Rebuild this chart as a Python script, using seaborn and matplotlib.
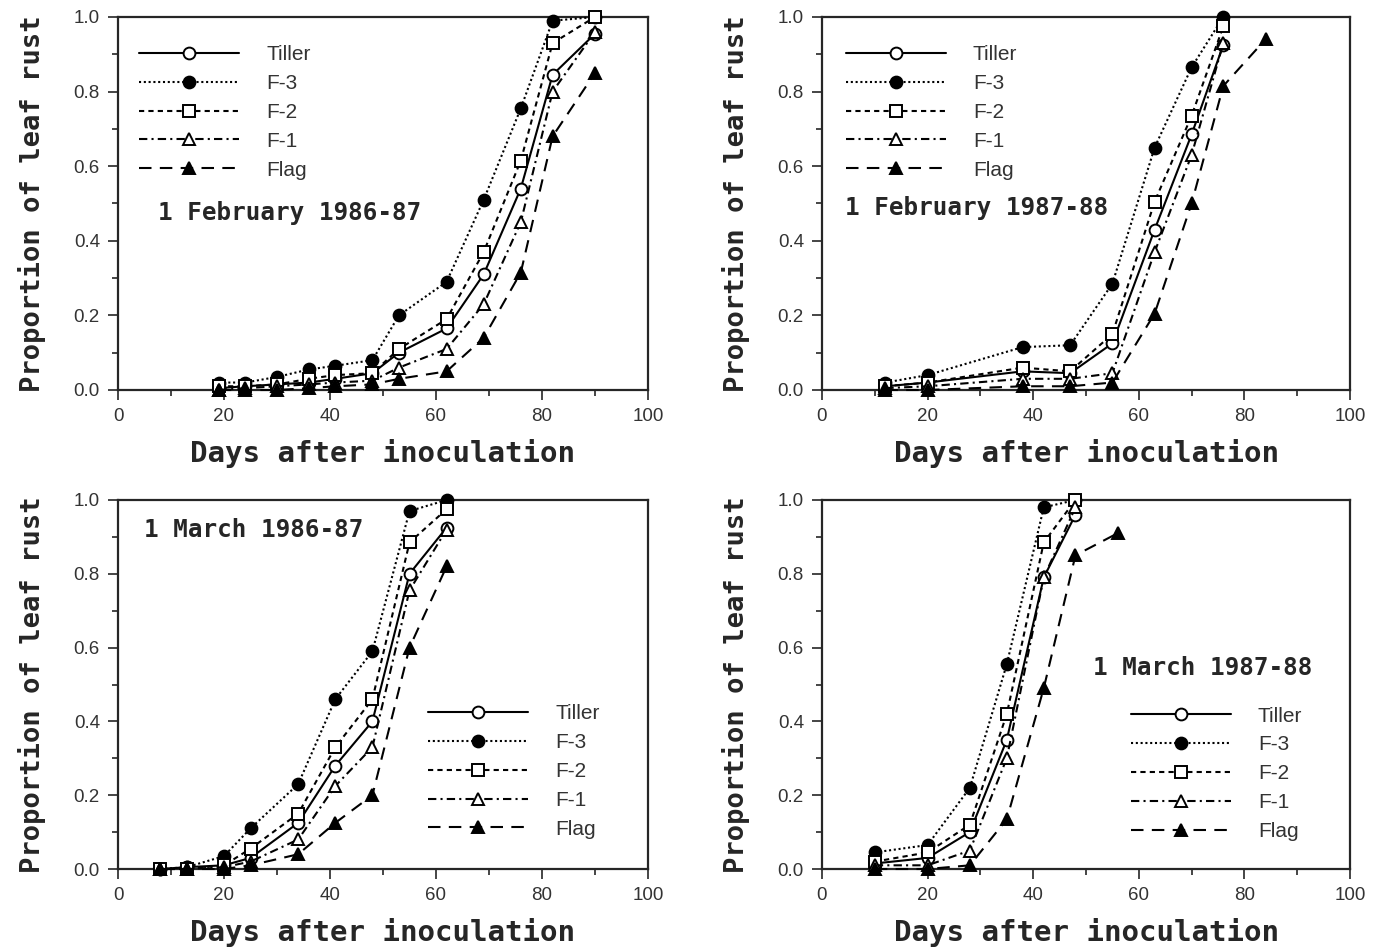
import numpy as np
import pandas as pd
import matplotlib
matplotlib.use("Agg")
import matplotlib.pyplot as plt
import seaborn as sns

# ---------------------------------------------------
# DATA
# ---------------------------------------------------

leaves = ["Tiller", "F-3", "F-2", "F-1", "Flag"]

# 1 February 1986-87
feb87_days = [19, 24, 30, 36, 41, 48, 53, 62, 69, 76, 82, 90]
feb87_tiller = [0.005, 0.01, 0.015, 0.02, 0.03, 0.045, 0.10, 0.165, 0.31, 0.54, 0.845, 0.955]
feb87_f3 = [0.02, 0.02, 0.035, 0.055, 0.065, 0.08, 0.20, 0.29, 0.51, 0.755, 0.99, 1.0]
feb87_f2 = [0.01, 0.01, 0.015, 0.03, 0.04, 0.045, 0.11, 0.19, 0.37, 0.615, 0.93, 1.0]
feb87_f1 = [0.0, 0.005, 0.01, 0.015, 0.02, 0.025, 0.06, 0.11, 0.23, 0.45, 0.80, 0.96]
feb87_flag = [0.0, 0.0, 0.0, 0.005, 0.01, 0.015, 0.03, 0.05, 0.14, 0.315, 0.68, 0.85]

# 1 February 1987-88 (only the flag leaf was scored on day 84)
feb88_days = [12, 20, 38, 47, 55, 63, 70, 76, 84]
feb88_tiller = [0.01, 0.02, 0.05, 0.045, 0.125, 0.43, 0.685, 0.925, np.nan]
feb88_f3 = [0.02, 0.04, 0.115, 0.12, 0.285, 0.65, 0.865, 1.0, np.nan]
feb88_f2 = [0.01, 0.02, 0.06, 0.05, 0.15, 0.505, 0.735, 0.975, np.nan]
feb88_f1 = [0.005, 0.01, 0.03, 0.03, 0.045, 0.37, 0.63, 0.93, np.nan]
feb88_flag = [0.0, 0.0, 0.01, 0.01, 0.02, 0.205, 0.50, 0.815, 0.94]

# 1 March 1986-87
mar87_days = [8, 13, 20, 25, 34, 41, 48, 55, 62]
mar87_tiller = [0.0, 0.005, 0.01, 0.03, 0.125, 0.28, 0.40, 0.80, 0.925]
mar87_f3 = [0.0, 0.005, 0.035, 0.11, 0.23, 0.46, 0.59, 0.97, 1.0]
mar87_f2 = [0.0, 0.0, 0.01, 0.055, 0.15, 0.33, 0.46, 0.885, 0.975]
mar87_f1 = [0.0, 0.0, 0.005, 0.02, 0.08, 0.225, 0.33, 0.755, 0.92]
mar87_flag = [0.0, 0.0, 0.0, 0.01, 0.04, 0.125, 0.20, 0.60, 0.82]

# 1 March 1987-88 (only the flag leaf was scored on day 56)
mar88_days = [10, 20, 28, 35, 42, 48, 56]
mar88_tiller = [0.015, 0.03, 0.10, 0.35, 0.79, 0.96, np.nan]
mar88_f3 = [0.045, 0.065, 0.22, 0.555, 0.98, 1.0, np.nan]
mar88_f2 = [0.02, 0.045, 0.12, 0.42, 0.885, 1.0, np.nan]
mar88_f1 = [0.01, 0.01, 0.05, 0.30, 0.79, 0.98, np.nan]
mar88_flag = [0.0, 0.0, 0.01, 0.135, 0.49, 0.85, 0.91]

panels = [
    ("1 February 1986-87", feb87_days, [feb87_tiller, feb87_f3, feb87_f2, feb87_f1, feb87_flag]),
    ("1 February 1987-88", feb88_days, [feb88_tiller, feb88_f3, feb88_f2, feb88_f1, feb88_flag]),
    ("1 March 1986-87", mar87_days, [mar87_tiller, mar87_f3, mar87_f2, mar87_f1, mar87_flag]),
    ("1 March 1987-88", mar88_days, [mar88_tiller, mar88_f3, mar88_f2, mar88_f1, mar88_flag]),
]

# line style, marker, marker face
styles = {
    "Tiller": ("-", "o", "white"),
    "F-3": ((0, (1, 1.3)), "o", "black"),
    "F-2": ((0, (2.5, 2)), "s", "white"),
    "F-1": ((0, (4, 2, 1, 2)), "^", "white"),
    "Flag": ((0, (6, 4)), "^", "black"),
}

# ---------------------------------------------------
# FIGURE
# ---------------------------------------------------

sns.set_style("ticks")
plt.rcParams["font.family"] = ["Liberation Sans", "DejaVu Sans"]

fig = plt.figure(figsize=(13.74, 9.52), dpi=100)

W, H = 1374, 952
boxes = [(118, 17, 648, 390), (822, 17, 1350, 390),
         (118, 500, 648, 869), (822, 500, 1350, 869)]

# legend / annotation positions in axes coords
legend_pos = [(0.04, 0.924), (0.045, 0.924), (0.585, 0.446), (0.585, 0.44)]
note_pos = [(0.075, 0.475), (0.044, 0.488), (0.05, 0.92), (0.513, 0.545)]

mono = "DejaVu Sans Mono"

for i, (title, days, series) in enumerate(panels):
    x0, y0, x1, y1 = boxes[i]
    ax = fig.add_axes([x0 / W, 1 - y1 / H, (x1 - x0) / W, (y1 - y0) / H])

    for leaf, vals in zip(leaves, series):
        d = pd.DataFrame({"day": days, "prop": vals}).dropna()
        ls, mk, fc = styles[leaf]
        sns.lineplot(data=d, x="day", y="prop", ax=ax, color="black",
                     linestyle=ls, lw=1.5, marker=mk, markersize=8.5,
                     markerfacecolor=fc, markeredgecolor="black",
                     markeredgewidth=1.4, clip_on=False, zorder=3,
                     estimator=None, sort=False, label=leaf)

    ax.set_xlim(0, 100)
    ax.set_ylim(0, 1.0)
    ax.set_xticks(np.arange(0, 101, 20))
    ax.set_xticks(np.arange(0, 101, 10), minor=True)
    ax.set_yticks(np.arange(0, 1.01, 0.2))
    ax.set_yticks(np.arange(0, 1.01, 0.1), minor=True)
    ax.set_yticklabels([f"{v:.1f}" for v in np.arange(0, 1.01, 0.2)])

    ax.tick_params(which="major", direction="out", length=7, width=1.2,
                   labelsize=13.5, labelcolor="#333333", pad=6)
    ax.tick_params(which="minor", direction="out", length=4, width=1.2)
    for s in ax.spines.values():
        s.set_linewidth(1.6)
        s.set_visible(True)

    ax.set_xlabel("Days after inoculation", fontsize=21, fontweight="bold",
                  family=mono, labelpad=10)
    ax.set_ylabel("Proportion of leaf rust", fontsize=19.5, fontweight="bold",
                  family=mono, labelpad=20)

    ax.text(note_pos[i][0], note_pos[i][1], title, transform=ax.transAxes,
            fontsize=17.5, fontweight="bold", family=mono, va="center", ha="left")

    handles = ax.get_lines()[:5]
    ax.legend(handles=handles, labels=leaves, loc="upper left",
              bbox_to_anchor=legend_pos[i], frameon=False, fontsize=15,
              handlelength=4.8, handletextpad=1.3, labelspacing=0.47,
              borderaxespad=0, borderpad=0, labelcolor="#333333")

plt.savefig("out.png", dpi=100)
plt.close()
